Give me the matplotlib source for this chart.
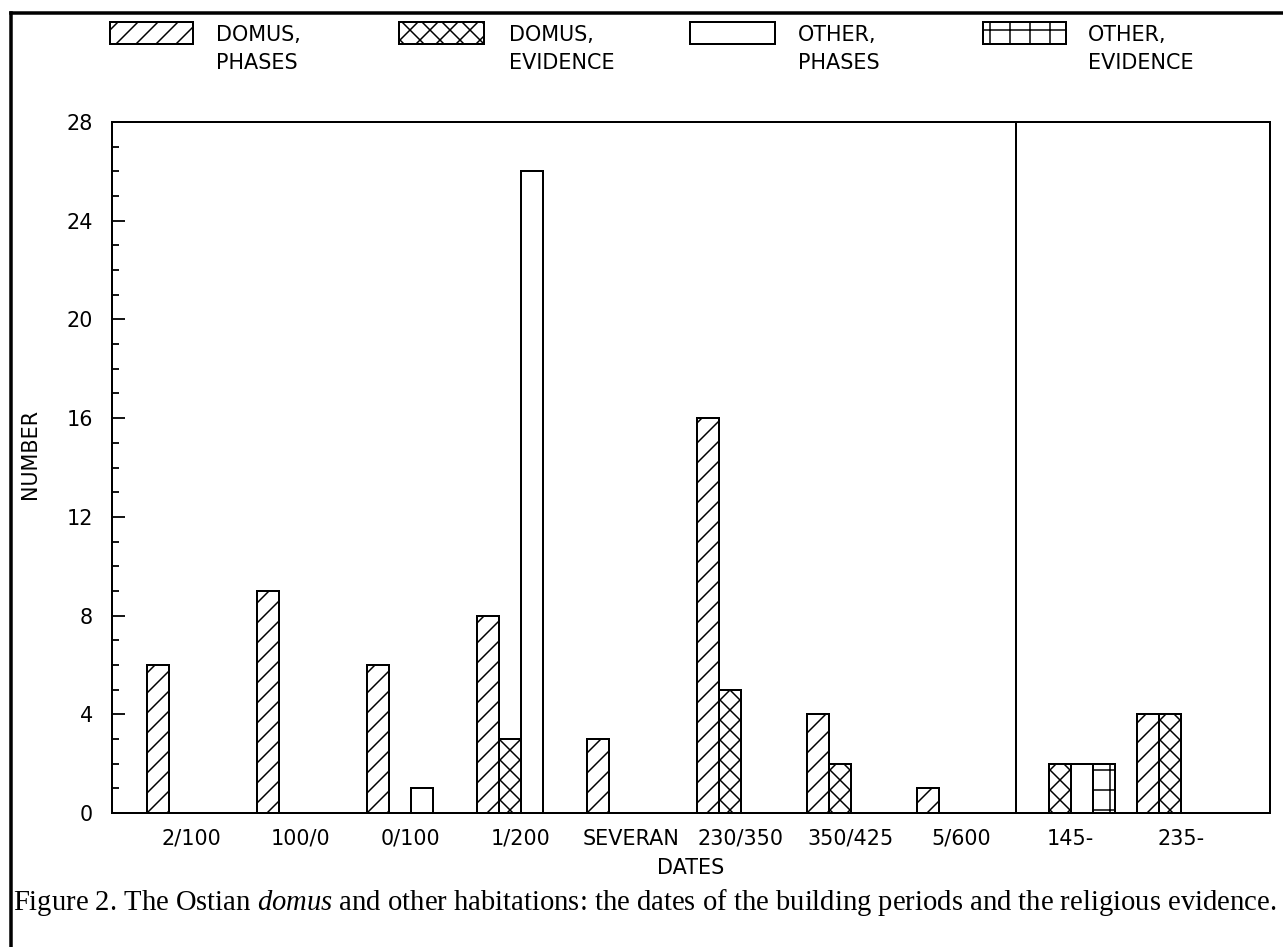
import matplotlib
matplotlib.use("Agg")
import matplotlib.pyplot as plt
import numpy as np
from matplotlib.patches import Rectangle
from matplotlib.lines import Line2D
from matplotlib.ticker import MultipleLocator

# counts per date bracket
dates = ['2/100', '100/0', '0/100', '1/200', 'SEVERAN',
         '230/350', '350/425', '5/600', '145-', '235-']
domus_phases = [6, 9, 6, 8, 3, 16, 4, 1, 0, 4]
domus_evidence = [0, 0, 0, 3, 0, 5, 2, 0, 2, 4]
other_phases = [0, 0, 1, 26, 0, 0, 0, 0, 2, 0]
other_evidence = [0, 0, 0, 0, 0, 0, 0, 0, 2, 0]

series = [
    (domus_phases, '//', ('DOMUS,', 'PHASES')),
    (domus_evidence, 'xx', ('DOMUS,', 'EVIDENCE')),
    (other_phases, '', ('OTHER,', 'PHASES')),
    (other_evidence, '+', ('OTHER,', 'EVIDENCE')),
]

# work at 120 dpi so the hatch cell gives ~20 px line spacing;
# sizes below are given in pixels and converted to points
DPI = 120
W, H = 1283, 947


def pt(px):
    return px * 72 / DPI


plt.rcParams['font.family'] = ['DejaVu Sans']
plt.rcParams['hatch.linewidth'] = pt(1.5)
plt.rcParams['mathtext.fontset'] = 'custom'
plt.rcParams['mathtext.rm'] = 'Liberation Serif'
plt.rcParams['mathtext.it'] = 'Liberation Serif:italic'

fig = plt.figure(figsize=(W / DPI, H / DPI), dpi=DPI)


def fx(x):
    return x / W


def fy(y):
    return 1 - y / H


fs = pt(20.8)
lw = pt(2)
ax = fig.add_axes([fx(112), fy(813), fx(1270) - fx(112), fy(122) - fy(813)])

bw = 0.2
x = np.arange(len(dates))
for k, (vals, hatch, _) in enumerate(series):
    vals = np.array(vals)
    m = vals > 0
    ax.bar(x[m] + k * bw, vals[m], width=bw, align='edge', hatch=hatch,
           facecolor='white', edgecolor='black', linewidth=lw)

# separator between dated groups and the two undated ones
ax.axvline(7.9, color='black', linewidth=lw)

ax.set_xlim(-0.318, 10.212)
ax.set_ylim(0, 28)
ax.set_xticks(x + 0.4)
ax.set_xticklabels(dates, fontsize=fs)
ax.tick_params(axis='x', length=0, pad=pt(16))
ax.yaxis.set_major_locator(MultipleLocator(4))
ax.yaxis.set_minor_locator(MultipleLocator(1))
ax.tick_params(axis='y', which='major', direction='in', length=pt(13), width=pt(1.8),
               pad=pt(19), labelsize=fs)
ax.tick_params(axis='y', which='minor', direction='in', length=pt(7), width=pt(1.8))
for s in ax.spines.values():
    s.set_linewidth(lw)

ax.set_xlabel('DATES', fontsize=fs, labelpad=pt(9))
ax.set_ylabel('NUMBER', fontsize=fs)
ax.yaxis.set_label_coords(-0.062, 0.52)

# legend row along the top
legend_x = [(110, 193, 216), (399, 484, 509), (690, 775, 798), (983, 1066, 1088)]
for (x0, x1, tx), (_, hatch, lines) in zip(legend_x, series):
    fig.add_artist(Rectangle((fx(x0), fy(44)), fx(x1) - fx(x0), fy(22) - fy(44),
                             transform=fig.transFigure, facecolor='white',
                             edgecolor='black', linewidth=lw, hatch=hatch))
    fig.text(fx(tx), fy(35), lines[0], fontsize=fs, va='center', ha='left')
    fig.text(fx(tx), fy(63), lines[1], fontsize=fs, va='center', ha='left')

# outer frame (left and top edges)
fig.add_artist(Line2D([fx(11), fx(11)], [0, fy(13)], color='black', linewidth=pt(3.5),
                      transform=fig.transFigure))
fig.add_artist(Line2D([fx(11), 1], [fy(13), fy(13)], color='black', linewidth=pt(3.5),
                      transform=fig.transFigure))

fig.text(fx(13), fy(902),
         'Figure 2. The Ostian $\\mathit{domus}$ and other habitations: the dates '
         'of the building periods and the religious evidence.',
         fontsize=pt(28.6), family='Liberation Serif', va='center', ha='left')

fig.savefig('out.png', dpi=DPI)
